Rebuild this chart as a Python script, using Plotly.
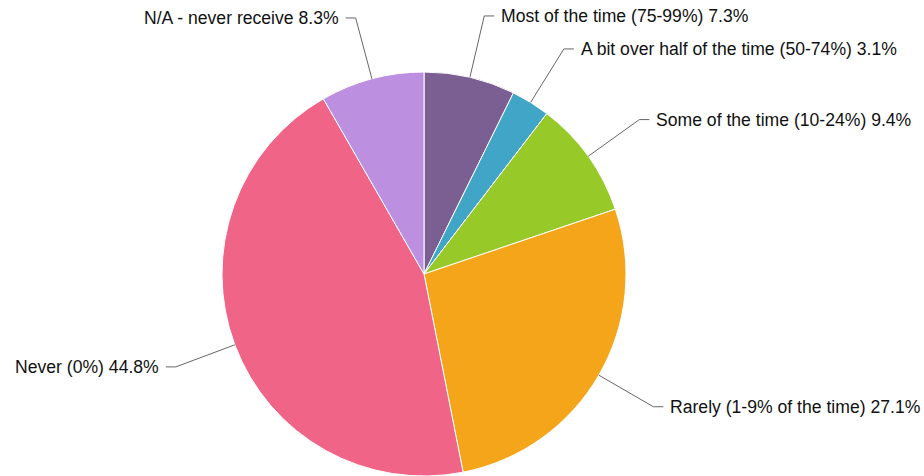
import math
import plotly.graph_objects as go

labels = [
    "Most of the time (75-99%)",
    "A bit over half of the time (50-74%)",
    "Some of the time (10-24%)",
    "Rarely (1-9% of the time)",
    "Never (0%)",
    "N/A - never receive",
]
values = [7.3, 3.1, 9.4, 27.1, 44.8, 8.3]
colors = ["#7C5F92", "#41A5C7", "#97C929", "#F5A51A", "#F06487", "#BC8FE0"]

W, H = 924, 476
CX, CY, R = 424, 274, 202
R_ELBOW = 265
HSEG = 10
GAP = 5

fig = go.Figure()
fig.add_trace(go.Pie(
    labels=labels,
    values=values,
    sort=False,
    direction="clockwise",
    rotation=0,
    textinfo="none",
    hoverinfo="label+percent",
    marker=dict(colors=colors, line=dict(color="white", width=1)),
    domain=dict(x=[(CX - R) / W, (CX + R) / W], y=[1 - (CY + R) / H, 1 - (CY - R) / H]),
    showlegend=False,
))

def px(x):
    return x / W

def py(y):
    return 1 - y / H

total = sum(values)
cum = 0.0
shapes = []
annotations = []
for lab, v in zip(labels, values):
    mid = (cum + v / 2) / total * 2 * math.pi
    cum += v
    sx, sy = CX + R * math.sin(mid), CY - R * math.cos(mid)
    ex, ey = CX + R_ELBOW * math.sin(mid), CY - R_ELBOW * math.cos(mid)
    right = math.sin(mid) >= 0
    hx = ex + HSEG if right else ex - HSEG
    path = f"M {px(sx)} {py(sy)} L {px(ex)} {py(ey)} L {px(hx)} {py(ey)}"
    shapes.append(dict(type="path", xref="paper", yref="paper", path=path,
                       line=dict(color="#666666", width=1)))
    tx = hx + GAP if right else hx - GAP
    annotations.append(dict(
        x=px(tx), y=py(ey), xref="paper", yref="paper",
        text=f"{lab} {v:.1f}%", showarrow=False,
        xanchor="left" if right else "right", yanchor="middle",
        font=dict(family="Liberation Sans, Arial, sans-serif", size=17.6, color="#111111"),
    ))

fig.update_layout(
    width=W, height=H,
    margin=dict(l=0, r=0, t=0, b=0),
    paper_bgcolor="white",
    plot_bgcolor="white",
    shapes=shapes,
    annotations=annotations,
)

fig.write_html(
    "out.html",
    config={"displayModeBar": False},
    post_script="document.body.style.margin='0';document.body.style.overflow='hidden';",
)
